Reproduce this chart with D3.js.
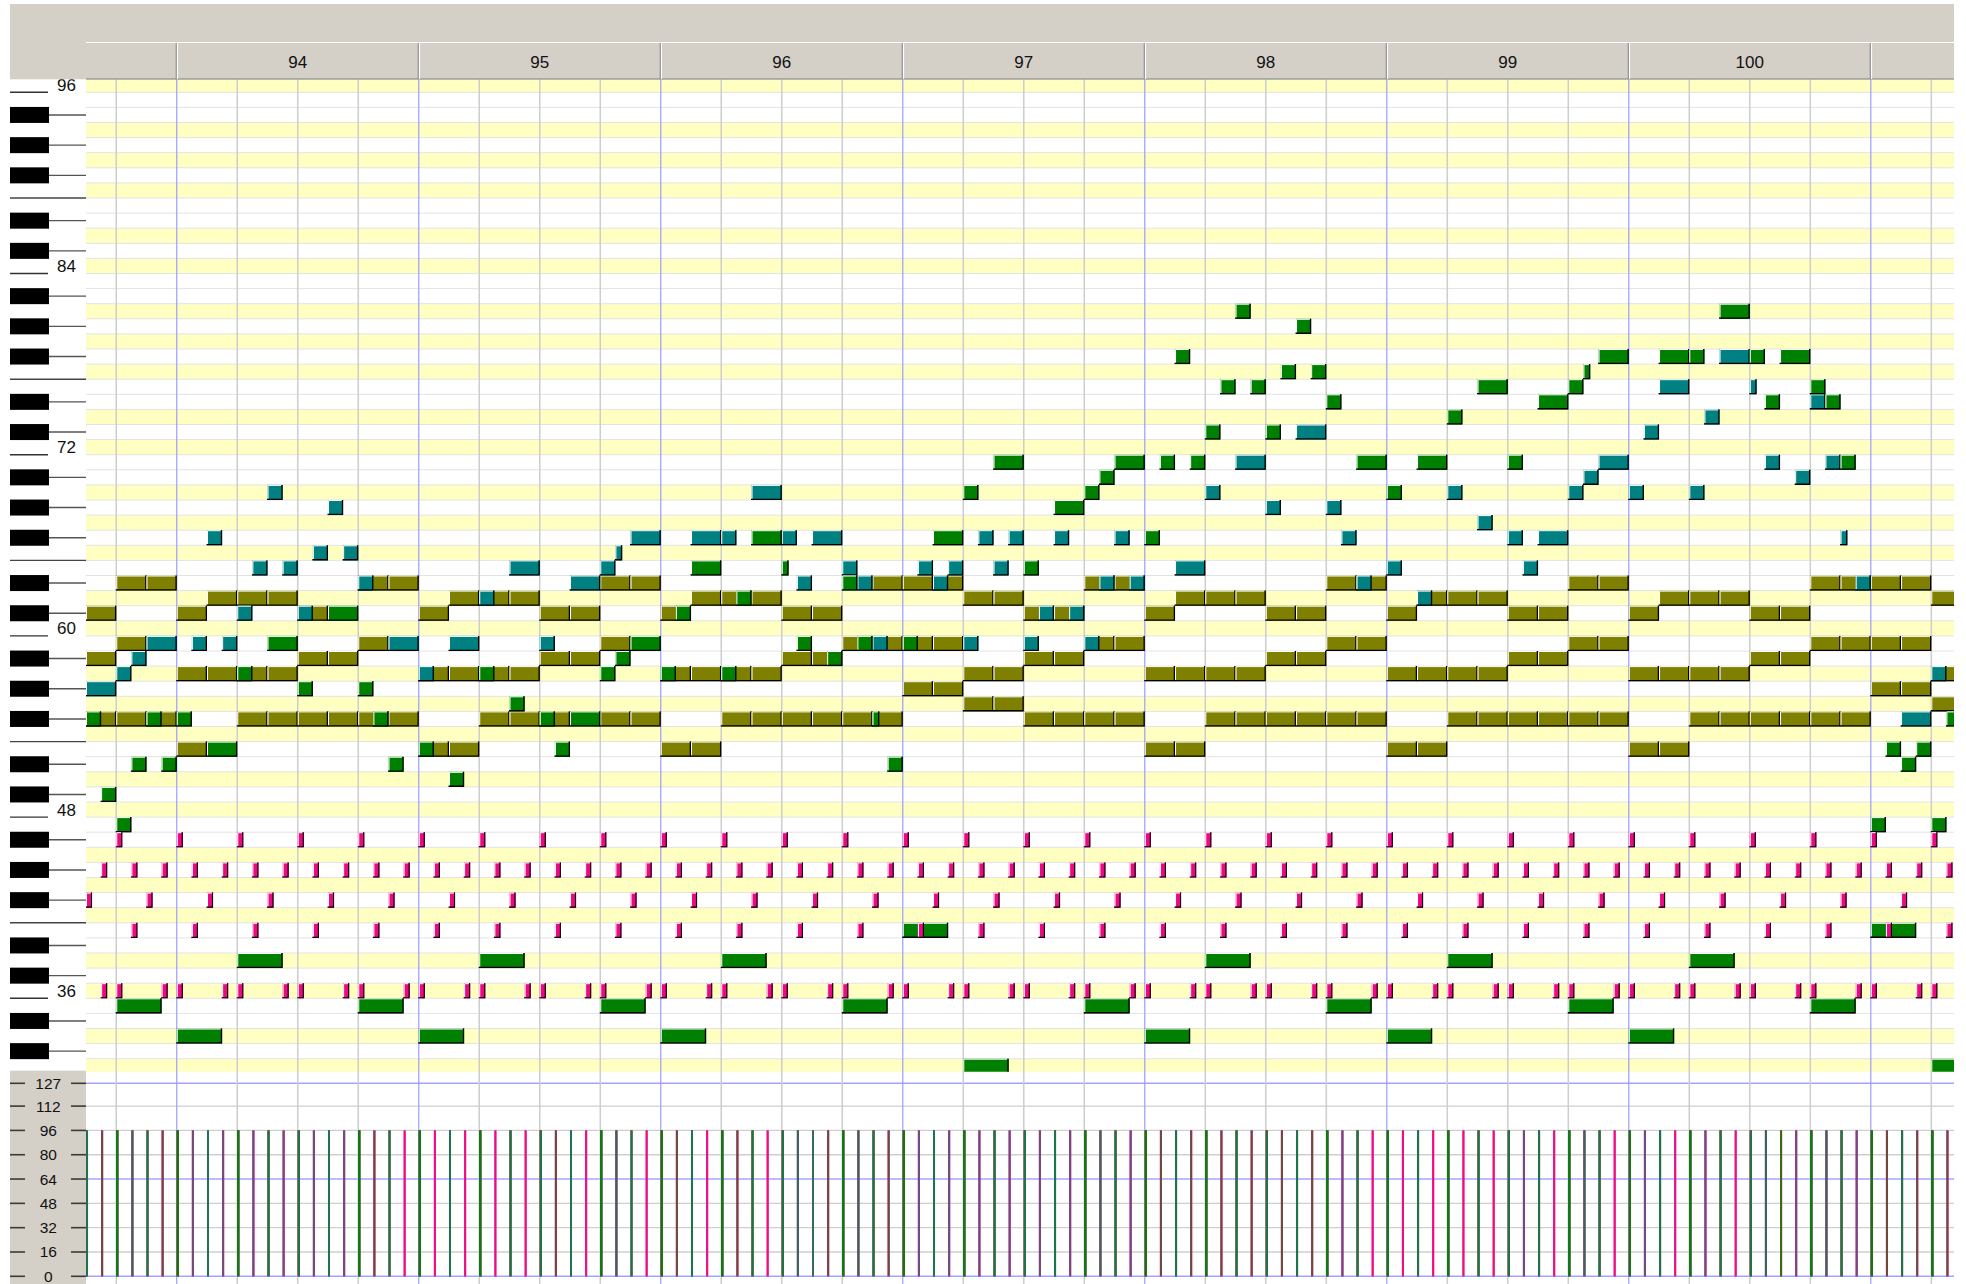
<!DOCTYPE html>
<html><head><meta charset="utf-8">
<script src="https://cdn.jsdelivr.net/npm/d3@7"></script>
<style>
html,body{margin:0;padding:0;background:#fff;}
svg{display:block;font-family:"Liberation Sans",Arial,Helvetica,sans-serif;}
</style></head><body>
<svg id="c" width="1966" height="1284"></svg>
<script>
// ---------------- DATA (time in 16th notes from the start of bar 94, pitch = MIDI note) ----------------
const measureLabels = ["94","95","96","97","98","99","100"];
const measureStarts16 = [0,16,32,48,64,80,96,112];
const pitchLabels = [96,84,72,60,48,36];
const velocityTicks = [0,16,32,48,64,80,96,112,127];
const velocityBlueTicks = [0,64,127];
const yellowPitchClasses = [0,2,5,7,9];

// [start16, length16, pitch]
const oliveNotes = [
 [-4,2,63],[-2,2,63],[12,2,63],[14,2,63],[28,2,63],[30,2,63],[46,2,63],[48,2,63],[50,2,63],[60,2,63],[62,2,63],[76,2,63],[78,2,63],[92,2,63],[94,2,63],[108,2,63],[110,2,63],[112,2,63],[114,2,63],
 [2,2,62],[4,2,62],[6,2,62],[18,2,62],[20,2,62],[22,2,62],[34,2,62],[36,2,62],[38,2,62],[52,2,62],[54,2,62],[66,2,62],[68,2,62],[70,2,62],[82,2,62],[84,2,62],[86,2,62],[98,2,62],[100,2,62],[102,2,62],[116,2,62],
 [-6,2,61],[0,2,61],[8,2,61],[16,2,61],[24,2,61],[26,2,61],[32,2,61],[40,2,61],[42,2,61],[56,2,61],[58,2,61],[64,2,61],[72,2,61],[74,2,61],[80,2,61],[88,2,61],[90,2,61],[96,2,61],[104,2,61],[106,2,61],
 [-4,2,59],[12,2,59],[28,2,59],[44,2,59],[46,2,59],[48,2,59],[50,2,59],[60,2,59],[62,2,59],[76,2,59],[78,2,59],[92,2,59],[94,2,59],[108,2,59],[110,2,59],[112,2,59],[114,2,59],
 [-6,2,58],[8,2,58],[10,2,58],[24,2,58],[26,2,58],[40,2,58],[42,2,58],[56,2,58],[58,2,58],[72,2,58],[74,2,58],[88,2,58],[90,2,58],[104,2,58],[106,2,58],
 [0,2,57],[2,2,57],[4,2,57],[6,2,57],[16,2,57],[18,2,57],[20,2,57],[22,2,57],[32,2,57],[34,2,57],[36,2,57],[38,2,57],[52,2,57],[54,2,57],[64,2,57],[66,2,57],[68,2,57],[70,2,57],[80,2,57],[82,2,57],[84,2,57],[86,2,57],[96,2,57],[98,2,57],[100,2,57],[102,2,57],[116,2,57],
 [48,2,56],[50,2,56],[112,2,56],[114,2,56],
 [52,2,55],[54,2,55],[116,2,55],
 [-6,2,54],[-4,2,54],[-2,2,54],[4,2,54],[6,2,54],[8,2,54],[10,2,54],[12,2,54],[14,2,54],[20,2,54],[22,2,54],[24,2,54],[28,2,54],[30,2,54],[36,2,54],[38,2,54],[40,2,54],[42,2,54],[44,2,54],[46,2,54],[56,2,54],[58,2,54],[60,2,54],[62,2,54],[68,2,54],[70,2,54],[72,2,54],[74,2,54],[76,2,54],[78,2,54],[84,2,54],[86,2,54],[88,2,54],[90,2,54],[92,2,54],[94,2,54],[100,2,54],[102,2,54],[104,2,54],[106,2,54],[108,2,54],[110,2,54],
 [0,2,52],[16,2,52],[18,2,52],[32,2,52],[34,2,52],[64,2,52],[66,2,52],[80,2,52],[82,2,52],[96,2,52],[98,2,52]
];

const tealNotes = [
 [6,1,69],[38,2,69],[68,1,69],[84,1,69],[92,1,69],[96,1,69],[100,1,69],
 [10,1,68],[72,1,68],[76,1,68],
 [86,1,67],
 [2,1,66],[30,2,66],[34,2,66],[36,1,66],[40,1,66],[42,2,66],[53,1,66],[55,1,66],[58,1,66],[62,1,66],[77,1,66],[88,1,66],[90,2,66],[110,0.45,66],
 [9,1,65],[11,1,65],[29,0.45,65],
 [5,1,64],[7,1,64],[22,2,64],[28,1,64],[44,1,64],[49,1,64],[51,1,64],[54,1,64],[66,2,64],[80,1,64],[89,1,64],
 [12,1,63],[26,2,63],[41,1,63],[45,1,63],[50,1,63],[61,1,63],[63,1,63],[78,1,63],[111,1,63],
 [20,1,62],[82,1,62],
 [4,1,61],[8,1,61],[57,1,61],[59,1,61],
 [-2,2,59],[1,1,59],[3,1,59],[14,2,59],[18,2,59],[24,1,59],[46,1,59],[52,1,59],[56,1,59],[60,1,59],
 [-3,1,58],
 [-4,1,57],[16,1,57],[116,1,57],
 [-6,2,56],
 [114,2,54],
 [93,1,70],[107,1,70],
 [70,2,71],[94,2,71],[105,1,71],[109,1,71],
 [74,2,73],[97,1,73],
 [101,1,74],
 [108,1,75],
 [98,2,76],[104,0.45,76],
 [102,2,78]
];

const greenNotes = [
 [70,1,81],[102,2,81],
 [74,1,80],
 [66,1,78],[94,2,78],[98,2,78],[100,1,78],[104,1,78],[106,2,78],
 [73,1,77],[75,1,77],[93,0.45,77],
 [69,1,76],[71,1,76],[86,2,76],[92,1,76],[108,1,76],
 [76,1,75],[90,2,75],[105,1,75],[109,1,75],
 [84,1,74],
 [68,1,73],[72,1,73],
 [54,2,71],[62,2,71],[65,1,71],[67,1,71],[78,2,71],[82,2,71],[88,1,71],[110,1,71],
 [61,1,70],
 [52,1,69],[60,1,69],[80,1,69],
 [58,2,68],
 [38,2,66],[50,2,66],[64,1,66],
 [34,2,64],[40,0.45,64],[56,1,64],
 [44,1,63],
 [37,1,62],
 [10,2,61],[33,1,61],
 [6,2,59],[30,2,59],[41,1,59],[45,1,59],[48,1,59],
 [29,1,58],[43,1,58],
 [4,1,57],[20,1,57],[28,1,57],[32,1,57],[36,1,57],
 [8,1,56],[12,1,56],
 [22,1,55],
 [-6,1,54],[-2,1,54],[0,1,54],[13,1,54],[24,1,54],[26,2,54],[46,0.45,54],[117,1,54],
 [2,2,52],[16,1,52],[25,1,52],[113,1,52],[115,1,52],
 [-3,1,51],[-1,1,51],[14,1,51],[47,1,51],[114,1,51],
 [18,1,50],
 [-5,1,49],
 [-4,1,47],[112,1,47],[116,1,47]
];

const bassNotes = [
 [-4,3,35],[12,3,35],[28,3,35],[44,3,35],[60,3,35],[76,3,35],[92,3,35],[108,3,35],
 [0,3,33],[16,3,33],[32,3,33],[64,3,33],[80,3,33],[96,3,33],
 [4,3,38],[20,3,38],[36,3,38],[68,3,38],[84,3,38],[100,3,38],
 [48,3,40],[112,3,40],
 [52,3,31],[116,3,31]
];

// drum hits: start times (16ths) per drum key
const hat46 = [-4,0,4,8,12,16,20,24,28,32,36,40,44,48,52,56,60,64,68,72,76,80,84,88,92,96,100,104,108,112,116];
const hat44 = [-5,-3,-1,1,3,5,7,9,11,13,15,17,19,21,23,25,27,29,31,33,35,37,39,41,43,45,47,49,51,53,55,57,59,61,63,65,67,69,71,73,75,77,79,81,83,85,87,89,91,93,95,97,99,101,103,105,107,109,111,113,115,117];
const hat42 = [-6,-2,2,6,10,14,18,22,26,30,34,38,42,46,50,54,58,62,66,70,74,78,82,86,90,94,98,102,106,110,114];
const snare40 = [-3,1,5,9,13,17,21,25,29,33,37,41,45,49,53,57,61,65,69,73,77,81,85,89,93,97,101,105,109,113,117];
const kick36 = [-5,-4,-1,0,3,4,7,8,11,12,15,16,19,20,23,24,27,28,31,32,35,36,39,40,43,44,47,48,51,52,55,56,59,60,63,64,67,68,71,72,75,76,79,80,83,84,87,88,91,92,95,96,99,100,103,104,107,108,111,112,115,116];
const drumVelocity = [96];
const melodyVelocity = [96];

// ---------------- LAYOUT ----------------
const L = 86, R = 1954, TOP = 79.3, NB = 1071.7, H = 1284;
const C = {olive:"#808000", teal:"#008080", green:"#008000", pink:"#ec0a84", yellow:"#ffffc2", grey:"#d4d0c8"};
const drumLen = 0.4;

const xS = d3.scaleLinear().domain([-6, 117.5]).range([L, R]);
const yP = d3.scaleLinear().domain([97, 31]).range([77.2, 1073.8]);   // pitch boundaries
const yV = d3.scaleLinear().domain([0, 127]).range([1276.3, 1083.3]);

const svg = d3.select("#c");
svg.append("rect").attr("width",1966).attr("height",H).attr("fill","#fff");

svg.append("clipPath").attr("id","nclip").append("rect")
  .attr("x",L).attr("y",TOP).attr("width",R-L).attr("height",NB-TOP);
svg.append("clipPath").attr("id","pclip").append("rect")
  .attr("x",L).attr("y",TOP).attr("width",R-L).attr("height",H-TOP);

// ---- row backgrounds ----
const gRows = svg.append("g").attr("clip-path","url(#nclip)");
const rows = d3.range(31, 97);
gRows.selectAll("rect").data(rows).join("rect")
  .attr("x",L).attr("width",R-L)
  .attr("y",p=>yP(p+1)).attr("height",p=>yP(p)-yP(p+1))
  .attr("fill",p=>yellowPitchClasses.includes(p%12)?C.yellow:"#fff");
gRows.selectAll("line").data(d3.range(31, 98)).join("line")
  .attr("x1",L).attr("x2",R).attr("y1",p=>yP(p)).attr("y2",p=>yP(p))
  .attr("stroke","#e3e3e3").attr("stroke-width",1);

// ---- velocity horizontal grid ----
const gVel = svg.append("g").attr("clip-path","url(#pclip)");
gVel.selectAll("line").data(velocityTicks).join("line")
  .attr("x1",L).attr("x2",R).attr("y1",v=>yV(v)).attr("y2",v=>yV(v))
  .attr("stroke",v=>velocityBlueTicks.includes(v)?"#a4a4ff":"#cfcfcf")
  .attr("stroke-width",v=>velocityBlueTicks.includes(v)?1.6:1.3);

// ---- vertical grid ----
const gGrid = svg.append("g").attr("clip-path","url(#pclip)");
const beatLines = d3.range(-4, 118, 4).filter(s=>!measureStarts16.includes(s));
gGrid.selectAll("line.b").data(beatLines).join("line").attr("class","b")
  .attr("x1",s=>xS(s)).attr("x2",s=>xS(s)).attr("y1",TOP).attr("y2",H)
  .attr("stroke","#cdcdcd").attr("stroke-width",1.5);
gGrid.selectAll("line.m").data(measureStarts16).join("line").attr("class","m")
  .attr("x1",s=>xS(s)).attr("x2",s=>xS(s)).attr("y1",TOP).attr("y2",H)
  .attr("stroke","#9c9cff").attr("stroke-width",1.2);

// ---- notes ----
const gNotes = svg.append("g").attr("clip-path","url(#nclip)");
function drawNotes(data, color, shadowW){
  const g = gNotes.append("g");
  const it = g.selectAll("g").data(data).join("g");
  it.append("rect")
    .attr("x",d=>xS(d[0])).attr("y",d=>yP(d[2]+1))
    .attr("width",d=>xS(d[0]+d[1])-xS(d[0]))
    .attr("height",d=>yP(d[2])-yP(d[2]+1))
    .attr("fill",color);
  it.append("path").attr("fill","none").attr("stroke","#fff").attr("stroke-width",1)
    .attr("d",d=>{const x0=xS(d[0]),x1=xS(d[0]+d[1]),y0=yP(d[2]+1),y1=yP(d[2]);
      return `M${x0+0.5},${y1-1}V${y0+0.5}H${x1-1.2}`;});
  it.append("path").attr("fill","none").attr("stroke","#000").attr("stroke-width",shadowW)
    .attr("d",d=>{const x0=xS(d[0]),x1=xS(d[0]+d[1]),y0=yP(d[2]+1),y1=yP(d[2]);
      return `M${x0-0.5},${y1-shadowW/2}H${x1-shadowW/2}V${y0}`;});
}
const drumNotes = [].concat(
  hat46.map(s=>[s,drumLen,46]), hat44.map(s=>[s,drumLen,44]), hat42.map(s=>[s,drumLen,42]),
  snare40.map(s=>[s,drumLen,40]), kick36.map(s=>[s,drumLen,36]));
drawNotes(oliveNotes, C.olive, 1.3);
drawNotes(tealNotes, C.teal, 1.3);
drawNotes(greenNotes, C.green, 1.3);
drawNotes(bassNotes, C.green, 1.3);
drawNotes(drumNotes, C.pink, 1.1);

// ---- velocity lines ----
const gVl = svg.append("g").attr("clip-path","url(#pclip)");
function drawVel(data, color, vel, op){
  gVl.append("g").selectAll("line").data(data).join("line")
    .attr("x1",d=>xS(d[0])+1).attr("x2",d=>xS(d[0])+1)
    .attr("y1",yV(0)).attr("y2",yV(vel))
    .attr("stroke",color).attr("stroke-width",2).attr("stroke-opacity",op);
}
drawVel(drumNotes, C.pink, drumVelocity[0], 0.9);
drawVel(oliveNotes, "#6b5a10", melodyVelocity[0], 0.5);
drawVel(greenNotes, C.green, melodyVelocity[0], 0.55);
drawVel(tealNotes, C.teal, melodyVelocity[0], 0.55);
drawVel(bassNotes, C.green, melodyVelocity[0], 0.8);

// ---- keyboard ----
const gKey = svg.append("g");
gKey.append("rect").attr("x",10).attr("y",TOP).attr("width",L-10).attr("height",NB-TOP).attr("fill","#fff");
const blackPC = [1,3,6,8,10];
const blackRows = rows.filter(p=>blackPC.includes(p%12));
gKey.selectAll("rect.k").data(blackRows).join("rect").attr("class","k")
  .attr("x",10).attr("width",39)
  .attr("y",p=>(yP(p)+yP(p+1))/2-8).attr("height",16).attr("fill","#000");
gKey.selectAll("line.k").data(blackRows).join("line").attr("class","k")
  .attr("x1",49).attr("x2",L).attr("y1",p=>(yP(p)+yP(p+1))/2).attr("y2",p=>(yP(p)+yP(p+1))/2)
  .attr("stroke","#555").attr("stroke-width",1.4);
const cRows = rows.filter(p=>p%12===0);
gKey.selectAll("line.c").data(cRows).join("line").attr("class","c")
  .attr("x1",10).attr("x2",48).attr("y1",p=>yP(p)).attr("y2",p=>yP(p))
  .attr("stroke","#333").attr("stroke-width",1.4);
const fRows = rows.filter(p=>p%12===5);
gKey.selectAll("line.f").data(fRows).join("line").attr("class","f")
  .attr("x1",10).attr("x2",L).attr("y1",p=>yP(p)).attr("y2",p=>yP(p))
  .attr("stroke","#444").attr("stroke-width",1.4);
gKey.selectAll("text").data(pitchLabels).join("text")
  .attr("x",76).attr("y",p=>yP(p)-1.5).attr("text-anchor","end")
  .attr("font-size",17).attr("fill","#111").text(p=>p);

// ---- header ----
const gH = svg.append("g");
gH.append("rect").attr("x",10).attr("y",4).attr("width",R-10).attr("height",TOP-4).attr("fill",C.grey);
gH.append("line").attr("x1",L).attr("x2",R).attr("y1",42.5).attr("y2",42.5).attr("stroke","#fff").attr("stroke-width",1.2);
gH.append("line").attr("x1",L).attr("x2",R).attr("y1",79).attr("y2",79).attr("stroke","#808080").attr("stroke-width",1.2);
gH.selectAll("line.ms").data(measureStarts16).join("line").attr("class","ms")
  .attr("x1",s=>xS(s)-0.5).attr("x2",s=>xS(s)-0.5).attr("y1",43).attr("y2",79)
  .attr("stroke","#7a7a7a").attr("stroke-width",1);
gH.selectAll("line.mw").data(measureStarts16).join("line").attr("class","mw")
  .attr("x1",s=>xS(s)+0.7).attr("x2",s=>xS(s)+0.7).attr("y1",43).attr("y2",79)
  .attr("stroke","#fff").attr("stroke-width",1.2);
gH.selectAll("text").data(measureLabels).join("text")
  .attr("x",(d,i)=>(xS(measureStarts16[i])+xS(measureStarts16[i+1]))/2)
  .attr("y",67.5).attr("text-anchor","middle").attr("font-size",17).attr("fill","#111").text(d=>d);

// ---- velocity axis panel ----
const gVa = svg.append("g");
gVa.append("rect").attr("x",10).attr("y",1070.7).attr("width",L-10).attr("height",H-1070.7).attr("fill",C.grey);
gVa.selectAll("line.l").data(velocityTicks).join("line").attr("class","l")
  .attr("x1",10).attr("x2",25).attr("y1",v=>yV(v)).attr("y2",v=>yV(v)).attr("stroke","#3a3a3a").attr("stroke-width",1.6);
gVa.selectAll("line.r").data(velocityTicks).join("line").attr("class","r")
  .attr("x1",71).attr("x2",L).attr("y1",v=>yV(v)).attr("y2",v=>yV(v)).attr("stroke","#3a3a3a").attr("stroke-width",1.6);
gVa.selectAll("text").data(velocityTicks).join("text")
  .attr("x",48.3).attr("y",v=>yV(v)+5.5).attr("text-anchor","middle")
  .attr("font-size",15.5).attr("fill","#111").text(v=>v);
</script></body></html>
